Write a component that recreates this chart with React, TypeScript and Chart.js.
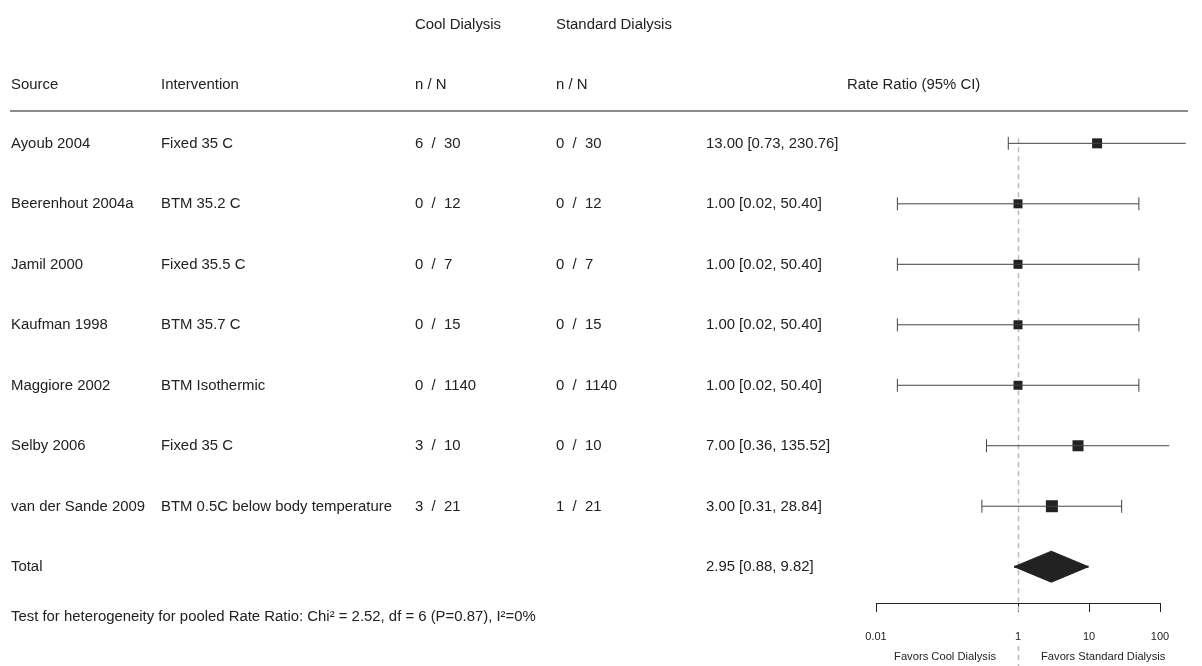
import { useEffect, useRef } from 'react';
import { Chart, registerables } from 'chart.js';

Chart.register(...registerables);

// ---------- data ----------
const sources = [
  'Ayoub 2004',
  'Beerenhout 2004a',
  'Jamil 2000',
  'Kaufman 1998',
  'Maggiore 2002',
  'Selby 2006',
  'van der Sande 2009',
];
const interventions = [
  'Fixed 35 C',
  'BTM 35.2 C',
  'Fixed 35.5 C',
  'BTM 35.7 C',
  'BTM Isothermic',
  'Fixed 35 C',
  'BTM 0.5C below body temperature',
];
const coolEvents = [6, 0, 0, 0, 0, 3, 3];
const coolTotals = [30, 12, 7, 15, 1140, 10, 21];
const stdEvents = [0, 0, 0, 0, 0, 0, 1];
const stdTotals = [30, 12, 7, 15, 1140, 10, 21];
const rateRatio = [13.0, 1.0, 1.0, 1.0, 1.0, 7.0, 3.0];
const ciLow = [0.73, 0.02, 0.02, 0.02, 0.02, 0.36, 0.31];
const ciHigh = [230.76, 50.4, 50.4, 50.4, 50.4, 135.52, 28.84];
const pooledRR = 2.95;
const pooledLow = 0.88;
const pooledHigh = 9.82;
const xTicks = [0.01, 1, 10, 100];
const heterogeneityText =
  'Test for heterogeneity for pooled Rate Ratio: Chi\u00B2 = 2.52, df = 6 (P=0.87), I\u00B2=0%';

// ---------- style / layout ----------
const FONT = '"Liberation Sans", Arial, Helvetica, sans-serif';
const TEXT_COLOR = '#222';
const LINE_COLOR = '#444';
const MARK_COLOR = '#222';
const squareSide = [10, 9, 9, 9, 9, 11, 12];
const Y_MIN = -2.37;
const Y_MAX = 7.6;
const TOTAL_ROW = sources.length;

const fmt = (v: number) => v.toFixed(2);

const forestPlugin = {
  id: 'forestText',
  beforeDatasetsDraw(chart: any) {
    const ctx = chart.ctx;
    const x1 = Math.round(chart.scales.x.getPixelForValue(1)) + 0.5;
    const top = chart.scales.y.getPixelForValue(0) - 5;
    ctx.save();
    ctx.strokeStyle = '#bbb';
    ctx.lineWidth = 1.5;
    ctx.setLineDash([5, 4]);
    ctx.beginPath();
    ctx.moveTo(x1, top);
    ctx.lineTo(x1, 615);
    ctx.moveTo(x1, 646);
    ctx.lineTo(x1, chart.height);
    ctx.stroke();
    ctx.restore();
  },
  afterDraw(chart: any) {
    const ctx = chart.ctx;
    const ys = chart.scales.y;
    const xs = chart.scales.x;
    ctx.save();
    ctx.fillStyle = TEXT_COLOR;
    ctx.textBaseline = 'middle';
    ctx.textAlign = 'left';
    ctx.font = `14.9px ${FONT}`;

    const yHead1 = ys.getPixelForValue(-2) + 2.5;
    const yHead2 = ys.getPixelForValue(-1) + 2.5;
    ctx.fillText('Cool Dialysis', 415, yHead1);
    ctx.fillText('Standard Dialysis', 556, yHead1);
    ctx.fillText('Source', 11, yHead2);
    ctx.fillText('Intervention', 161, yHead2);
    ctx.fillText('n / N', 415, yHead2);
    ctx.fillText('n / N', 556, yHead2);
    ctx.fillText('Rate Ratio (95% CI)', 847, yHead2);

    // header rule
    ctx.strokeStyle = '#666';
    ctx.lineWidth = 1.5;
    ctx.beginPath();
    ctx.moveTo(10, 111);
    ctx.lineTo(1188, 111);
    ctx.stroke();

    sources.forEach((s, i) => {
      const y = ys.getPixelForValue(i) + 0.5;
      ctx.fillText(s, 11, y);
      ctx.fillText(interventions[i], 161, y);
      ctx.fillText(`${coolEvents[i]}  /  ${coolTotals[i]}`, 415, y);
      ctx.fillText(`${stdEvents[i]}  /  ${stdTotals[i]}`, 556, y);
      ctx.fillText(`${fmt(rateRatio[i])} [${fmt(ciLow[i])}, ${fmt(ciHigh[i])}]`, 706, y);
    });
    const yt = ys.getPixelForValue(TOTAL_ROW) + 0.5;
    ctx.fillText('Total', 11, yt);
    ctx.fillText(`${fmt(pooledRR)} [${fmt(pooledLow)}, ${fmt(pooledHigh)}]`, 706, yt);

    ctx.fillText(heterogeneityText, 11, ys.getPixelForValue(TOTAL_ROW + 0.81) + 1);

    // favors labels
    const x1 = xs.getPixelForValue(1);
    ctx.font = `11.2px ${FONT}`;
    ctx.textAlign = 'right';
    ctx.fillText('Favors Cool Dialysis', x1 - 22, 657);
    ctx.textAlign = 'left';
    ctx.fillText('Favors Standard Dialysis', x1 + 23, 657);
    ctx.restore();
  },
};

export default function App() {
  const ref = useRef<HTMLCanvasElement | null>(null);

  useEffect(() => {
    if (!ref.current) return;
    const rowPx = 603 / (Y_MAX - Y_MIN);
    const halfH = 15.5 / rowPx;

    const ciSets = sources.map((_, i) => ({
      type: 'scatter',
      data: [
        { x: ciLow[i], y: i },
        { x: ciHigh[i], y: i },
      ],
      showLine: true,
      borderColor: LINE_COLOR,
      borderWidth: 1,
      pointStyle: 'line',
      pointRotation: 90,
      pointRadius: 6.5,
      pointBorderWidth: 1,
      pointBorderColor: LINE_COLOR,
      clip: false,
    }));

    const squares = {
      type: 'scatter',
      data: rateRatio.map((v, i) => ({ x: v, y: i })),
      pointStyle: 'rect',
      pointRadius: squareSide.map((s) => s / Math.SQRT2),
      backgroundColor: MARK_COLOR,
      pointBackgroundColor: MARK_COLOR,
      pointBorderWidth: 0,
      clip: false,
    };

    const diamondTop = {
      type: 'scatter',
      data: [
        { x: pooledLow, y: TOTAL_ROW },
        { x: pooledRR, y: TOTAL_ROW - halfH },
        { x: pooledHigh, y: TOTAL_ROW },
      ],
      showLine: true,
      fill: { value: TOTAL_ROW },
      backgroundColor: MARK_COLOR,
      borderColor: MARK_COLOR,
      borderWidth: 1,
      pointRadius: 0,
    };
    const diamondBottom = {
      ...diamondTop,
      data: [
        { x: pooledLow, y: TOTAL_ROW },
        { x: pooledRR, y: TOTAL_ROW + halfH },
        { x: pooledHigh, y: TOTAL_ROW },
      ],
    };
    const diamondMid = {
      type: 'scatter',
      data: [
        { x: pooledLow, y: TOTAL_ROW },
        { x: pooledHigh, y: TOTAL_ROW },
      ],
      showLine: true,
      fill: false,
      borderColor: MARK_COLOR,
      borderWidth: 2,
      pointRadius: 0,
    };

    const chart = new Chart(ref.current, {
      type: 'scatter',
      data: { datasets: [...ciSets, squares, diamondTop, diamondBottom, diamondMid] as any },
      options: {
        animation: false,
        responsive: false,
        devicePixelRatio: 1,
        layout: { autoPadding: false, padding: { left: 876, right: 42, top: 0, bottom: 4.8 } },
        plugins: { legend: { display: false }, tooltip: { enabled: false } },
        scales: {
          x: {
            type: 'logarithmic',
            min: 0.01,
            max: 100,
            position: 'bottom',
            afterBuildTicks: (s: any) => {
              s.ticks = xTicks.map((v) => ({ value: v }));
            },
            grid: {
              drawOnChartArea: false,
              drawTicks: true,
              tickLength: 9,
              color: '#222',
              lineWidth: 1,
            },
            border: { display: true, color: '#222', width: 1 },
            ticks: {
              autoSkip: false,
              maxRotation: 0,
              padding: 18,
              color: TEXT_COLOR,
              font: { size: 11, family: FONT },
              callback: (v: any) => String(v),
            },
          },
          y: {
            type: 'linear',
            reverse: true,
            min: Y_MIN,
            max: Y_MAX,
            display: false,
          },
        },
      } as any,
      plugins: [forestPlugin],
    });
    return () => chart.destroy();
  }, []);

  return (
    <div style={{ position: 'absolute', left: 0, top: 0, width: 1202, height: 666, background: '#fff' }}>
      <canvas ref={ref} width={1202} height={666} style={{ display: 'block' }} />
    </div>
  );
}
